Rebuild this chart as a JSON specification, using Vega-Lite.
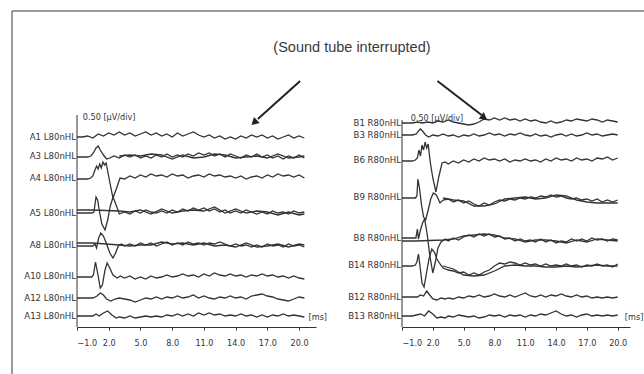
{
"$schema": "https://vega.github.io/schema/vega-lite/v6.json",
"width": 632, "height": 363,
"autosize": "none",
"padding": {"left": 12, "top": 11, "right": 0, "bottom": 0},
"background": "white",
"config": {
  "view": {"stroke": "#7a7a7a", "strokeWidth": 1.5, "strokeDash": [632, 995, 363, 0]},
  "axis": {"domainColor": "#333", "tickColor": "#333", "labelColor": "#333", "labelFont": "Liberation Sans Narrow, DejaVu Sans Condensed, sans-serif", "labelFontSize": 9, "tickSize": 3, "labelPadding": 8, "grid": false, "domainWidth": 1},
  "text": {"font": "Liberation Sans Narrow, DejaVu Sans Condensed, sans-serif", "fontSize": 9.5, "fill": "#333"}
},
"datasets": {
"A": [
{"s":"A1","t":-1,"v":13.7},{"s":"A1","t":-0.5,"v":13.7},{"s":"A1","t":0,"v":13.6},{"s":"A1","t":0.5,"v":13.8},{"s":"A1","t":1,"v":13.4},{"s":"A1","t":1.5,"v":13.6},{"s":"A1","t":2,"v":13.3},{"s":"A1","t":2.5,"v":13.5},{"s":"A1","t":3,"v":13.2},{"s":"A1","t":3.5,"v":13.5},{"s":"A1","t":4,"v":13.3},{"s":"A1","t":4.5,"v":13.6},{"s":"A1","t":5,"v":13.4},{"s":"A1","t":5.5,"v":13.2},{"s":"A1","t":6,"v":13.5},{"s":"A1","t":6.5,"v":13.3},{"s":"A1","t":7,"v":13.6},{"s":"A1","t":7.5,"v":13.4},{"s":"A1","t":8,"v":13.7},{"s":"A1","t":8.5,"v":13.3},{"s":"A1","t":9,"v":13.6},{"s":"A1","t":9.5,"v":13.4},{"s":"A1","t":10,"v":13.2},{"s":"A1","t":10.5,"v":13.5},{"s":"A1","t":11,"v":13.7},{"s":"A1","t":11.5,"v":13.5},{"s":"A1","t":12,"v":13.8},{"s":"A1","t":12.5,"v":13.6},{"s":"A1","t":13,"v":13.9},{"s":"A1","t":13.5,"v":13.7},{"s":"A1","t":14,"v":13.9},{"s":"A1","t":14.5,"v":13.6},{"s":"A1","t":15,"v":13.8},{"s":"A1","t":15.5,"v":13.5},{"s":"A1","t":16,"v":13.7},{"s":"A1","t":16.5,"v":13.5},{"s":"A1","t":17,"v":13.8},{"s":"A1","t":17.5,"v":13.6},{"s":"A1","t":18,"v":13.9},{"s":"A1","t":18.5,"v":13.7},{"s":"A1","t":19,"v":13.5},{"s":"A1","t":19.5,"v":13.8},{"s":"A1","t":20,"v":13.6},{"s":"A1","t":20.5,"v":13.8},
{"s":"A3","t":-1,"v":15.7},{"s":"A3","t":-0.5,"v":15.7},{"s":"A3","t":0,"v":15.7},{"s":"A3","t":0.3,"v":15.6},{"s":"A3","t":0.55,"v":15.3},{"s":"A3","t":0.8,"v":14.8},{"s":"A3","t":1,"v":14.6},{"s":"A3","t":1.2,"v":15.0},{"s":"A3","t":1.5,"v":15.5},{"s":"A3","t":1.8,"v":15.9},{"s":"A3","t":2.1,"v":15.8},{"s":"A3","t":2.5,"v":15.6},{"s":"A3","t":3,"v":15.8},{"s":"A3","t":3.5,"v":15.5},{"s":"A3","t":4,"v":15.7},{"s":"A3","t":4.5,"v":15.5},{"s":"A3","t":5,"v":15.8},{"s":"A3","t":5.5,"v":15.6},{"s":"A3","t":6,"v":15.8},{"s":"A3","t":6.5,"v":15.5},{"s":"A3","t":7,"v":15.7},{"s":"A3","t":7.5,"v":15.4},{"s":"A3","t":8,"v":15.7},{"s":"A3","t":8.5,"v":15.5},{"s":"A3","t":9,"v":15.7},{"s":"A3","t":9.5,"v":15.4},{"s":"A3","t":10,"v":15.6},{"s":"A3","t":10.5,"v":15.3},{"s":"A3","t":11,"v":15.5},{"s":"A3","t":11.5,"v":15.3},{"s":"A3","t":12,"v":15.6},{"s":"A3","t":12.5,"v":15.4},{"s":"A3","t":13,"v":15.7},{"s":"A3","t":13.5,"v":15.4},{"s":"A3","t":14,"v":15.6},{"s":"A3","t":14.5,"v":15.8},{"s":"A3","t":15,"v":15.5},{"s":"A3","t":15.5,"v":15.7},{"s":"A3","t":16,"v":15.4},{"s":"A3","t":16.5,"v":15.7},{"s":"A3","t":17,"v":15.5},{"s":"A3","t":17.5,"v":15.8},{"s":"A3","t":18,"v":15.6},{"s":"A3","t":18.5,"v":15.9},{"s":"A3","t":19,"v":15.6},{"s":"A3","t":19.5,"v":15.8},{"s":"A3","t":20,"v":15.5},{"s":"A3","t":20.5,"v":15.8},
{"s":"A3b","t":3,"v":15.6},{"s":"A3b","t":4,"v":15.5},{"s":"A3b","t":5,"v":15.6},{"s":"A3b","t":6,"v":15.4},{"s":"A3b","t":7,"v":15.5},{"s":"A3b","t":8,"v":15.9},{"s":"A3b","t":9,"v":15.5},{"s":"A3b","t":10,"v":15.8},{"s":"A3b","t":11,"v":15.7},{"s":"A3b","t":12,"v":15.4},{"s":"A3b","t":13,"v":15.5},{"s":"A3b","t":14,"v":15.8},{"s":"A3b","t":15,"v":15.7},{"s":"A3b","t":16,"v":15.6},{"s":"A3b","t":17,"v":15.8},{"s":"A3b","t":18,"v":15.4},{"s":"A3b","t":19,"v":15.8},{"s":"A3b","t":20,"v":15.7},{"s":"A3b","t":20.5,"v":15.6},
{"s":"A4","t":-1,"v":17.9},{"s":"A4","t":-0.5,"v":17.9},{"s":"A4","t":0,"v":17.9},{"s":"A4","t":0.3,"v":17.8},{"s":"A4","t":0.5,"v":17.6},{"s":"A4","t":0.7,"v":17.0},{"s":"A4","t":0.85,"v":16.6},{"s":"A4","t":1,"v":16.9},{"s":"A4","t":1.15,"v":16.4},{"s":"A4","t":1.3,"v":16.8},{"s":"A4","t":1.45,"v":16.2},{"s":"A4","t":1.6,"v":16.5},{"s":"A4","t":1.75,"v":16.3},{"s":"A4","t":2.1,"v":18.2},{"s":"A4","t":2.4,"v":19.8},{"s":"A4","t":2.75,"v":18.8},{"s":"A4","t":3.07,"v":17.8},{"s":"A4","t":3.5,"v":17.9},{"s":"A4","t":4,"v":17.6},{"s":"A4","t":4.5,"v":17.8},{"s":"A4","t":5,"v":17.5},{"s":"A4","t":5.5,"v":17.7},{"s":"A4","t":6,"v":17.4},{"s":"A4","t":6.5,"v":17.6},{"s":"A4","t":7,"v":17.5},{"s":"A4","t":7.5,"v":17.7},{"s":"A4","t":8,"v":17.4},{"s":"A4","t":8.5,"v":17.6},{"s":"A4","t":9,"v":17.5},{"s":"A4","t":9.5,"v":17.8},{"s":"A4","t":10,"v":17.6},{"s":"A4","t":10.5,"v":17.5},{"s":"A4","t":11,"v":17.7},{"s":"A4","t":11.5,"v":17.4},{"s":"A4","t":12,"v":17.6},{"s":"A4","t":12.5,"v":17.5},{"s":"A4","t":13,"v":17.7},{"s":"A4","t":13.5,"v":17.6},{"s":"A4","t":14,"v":17.8},{"s":"A4","t":14.5,"v":17.6},{"s":"A4","t":15,"v":17.9},{"s":"A4","t":15.5,"v":17.7},{"s":"A4","t":16,"v":17.6},{"s":"A4","t":16.5,"v":17.8},{"s":"A4","t":17,"v":17.5},{"s":"A4","t":17.5,"v":17.7},{"s":"A4","t":18,"v":17.4},{"s":"A4","t":18.5,"v":17.6},{"s":"A4","t":19,"v":17.5},{"s":"A4","t":19.5,"v":17.7},{"s":"A4","t":20,"v":17.5},{"s":"A4","t":20.5,"v":17.8},
{"s":"A5","t":-1,"v":21.3},{"s":"A5","t":-0.5,"v":21.3},{"s":"A5","t":0,"v":21.3},{"s":"A5","t":0.4,"v":21.3},{"s":"A5","t":0.6,"v":21.2},{"s":"A5","t":0.8,"v":19.7},{"s":"A5","t":0.95,"v":20.0},{"s":"A5","t":1.1,"v":21.0},{"s":"A5","t":1.35,"v":22.4},{"s":"A5","t":1.65,"v":23.0},{"s":"A5","t":1.9,"v":22.0},{"s":"A5","t":2.15,"v":20.6},{"s":"A5","t":2.41,"v":19.7},{"s":"A5","t":2.7,"v":20.5},{"s":"A5","t":3,"v":21.4},{"s":"A5","t":3.5,"v":21.2},{"s":"A5","t":4,"v":21.4},{"s":"A5","t":4.5,"v":21.1},{"s":"A5","t":5,"v":21.3},{"s":"A5","t":5.5,"v":21.0},{"s":"A5","t":6,"v":21.2},{"s":"A5","t":6.5,"v":21.3},{"s":"A5","t":7,"v":21.1},{"s":"A5","t":7.5,"v":21.3},{"s":"A5","t":8,"v":21.0},{"s":"A5","t":8.5,"v":21.2},{"s":"A5","t":9,"v":20.9},{"s":"A5","t":9.5,"v":21.1},{"s":"A5","t":10,"v":20.8},{"s":"A5","t":10.5,"v":21.0},{"s":"A5","t":11,"v":20.8},{"s":"A5","t":11.5,"v":21.1},{"s":"A5","t":12,"v":20.9},{"s":"A5","t":12.5,"v":21.2},{"s":"A5","t":13,"v":21.0},{"s":"A5","t":13.5,"v":21.3},{"s":"A5","t":14,"v":21.1},{"s":"A5","t":14.5,"v":21.3},{"s":"A5","t":15,"v":21.0},{"s":"A5","t":15.5,"v":21.2},{"s":"A5","t":16,"v":21.4},{"s":"A5","t":16.5,"v":21.2},{"s":"A5","t":17,"v":21.4},{"s":"A5","t":17.5,"v":21.1},{"s":"A5","t":18,"v":21.3},{"s":"A5","t":18.5,"v":21.2},{"s":"A5","t":19,"v":21.4},{"s":"A5","t":19.5,"v":21.1},{"s":"A5","t":20,"v":21.3},{"s":"A5","t":20.5,"v":21.2},
{"s":"A5b","t":-1,"v":21.0},{"s":"A5b","t":0.4,"v":21.0},{"s":"A5b","t":3,"v":21.1},{"s":"A5b","t":4,"v":21.2},{"s":"A5b","t":5,"v":21.0},{"s":"A5b","t":6,"v":21.4},{"s":"A5b","t":7,"v":20.9},{"s":"A5b","t":8,"v":21.3},{"s":"A5b","t":9,"v":21.1},{"s":"A5b","t":10,"v":21.0},{"s":"A5b","t":11,"v":21.1},{"s":"A5b","t":12,"v":20.7},{"s":"A5b","t":13,"v":21.3},{"s":"A5b","t":14,"v":20.9},{"s":"A5b","t":15,"v":21.3},{"s":"A5b","t":16,"v":21.1},{"s":"A5b","t":17,"v":21.2},{"s":"A5b","t":18,"v":21.5},{"s":"A5b","t":19,"v":21.2},{"s":"A5b","t":20,"v":21.5},{"s":"A5b","t":20.5,"v":21.4},
{"s":"A8","t":-1,"v":24.6},{"s":"A8","t":-0.5,"v":24.6},{"s":"A8","t":0,"v":24.6},{"s":"A8","t":0.5,"v":24.6},{"s":"A8","t":0.7,"v":24.4},{"s":"A8","t":0.85,"v":24.8},{"s":"A8","t":1.05,"v":23.8},{"s":"A8","t":1.25,"v":23.3},{"s":"A8","t":1.5,"v":23.6},{"s":"A8","t":1.8,"v":24.4},{"s":"A8","t":2.1,"v":25.3},{"s":"A8","t":2.4,"v":25.8},{"s":"A8","t":2.65,"v":25.3},{"s":"A8","t":2.9,"v":24.6},{"s":"A8","t":3.2,"v":24.4},{"s":"A8","t":3.5,"v":24.6},{"s":"A8","t":4,"v":24.4},{"s":"A8","t":4.5,"v":24.6},{"s":"A8","t":5,"v":24.3},{"s":"A8","t":5.5,"v":24.5},{"s":"A8","t":6,"v":24.3},{"s":"A8","t":6.5,"v":24.6},{"s":"A8","t":7,"v":24.4},{"s":"A8","t":7.5,"v":24.2},{"s":"A8","t":8,"v":24.5},{"s":"A8","t":8.5,"v":24.3},{"s":"A8","t":9,"v":24.5},{"s":"A8","t":9.5,"v":24.2},{"s":"A8","t":10,"v":24.4},{"s":"A8","t":10.5,"v":24.3},{"s":"A8","t":11,"v":24.5},{"s":"A8","t":11.5,"v":24.3},{"s":"A8","t":12,"v":24.4},{"s":"A8","t":12.5,"v":24.2},{"s":"A8","t":13,"v":24.4},{"s":"A8","t":13.5,"v":24.6},{"s":"A8","t":14,"v":24.4},{"s":"A8","t":14.5,"v":24.6},{"s":"A8","t":15,"v":24.5},{"s":"A8","t":15.5,"v":24.7},{"s":"A8","t":16,"v":24.5},{"s":"A8","t":16.5,"v":24.7},{"s":"A8","t":17,"v":24.4},{"s":"A8","t":17.5,"v":24.6},{"s":"A8","t":18,"v":24.5},{"s":"A8","t":18.5,"v":24.7},{"s":"A8","t":19,"v":24.4},{"s":"A8","t":19.5,"v":24.6},{"s":"A8","t":20,"v":24.5},{"s":"A8","t":20.5,"v":24.7},
{"s":"A8b","t":-1,"v":24.3},{"s":"A8b","t":0.5,"v":24.3},{"s":"A8b","t":3,"v":24.5},{"s":"A8b","t":4,"v":24.6},{"s":"A8b","t":5,"v":24.5},{"s":"A8b","t":6,"v":24.5},{"s":"A8b","t":7,"v":24.2},{"s":"A8b","t":8,"v":24.4},{"s":"A8b","t":9,"v":24.3},{"s":"A8b","t":10,"v":24.5},{"s":"A8b","t":11,"v":24.3},{"s":"A8b","t":12,"v":24.6},{"s":"A8b","t":13,"v":24.5},{"s":"A8b","t":14,"v":24.7},{"s":"A8b","t":15,"v":24.3},{"s":"A8b","t":16,"v":24.7},{"s":"A8b","t":17,"v":24.6},{"s":"A8b","t":18,"v":24.4},{"s":"A8b","t":19,"v":24.7},{"s":"A8b","t":20,"v":24.4},{"s":"A8b","t":20.5,"v":24.5},
{"s":"A10","t":-1,"v":27.7},{"s":"A10","t":-0.5,"v":27.7},{"s":"A10","t":0,"v":27.7},{"s":"A10","t":0.4,"v":27.7},{"s":"A10","t":0.55,"v":27.5},{"s":"A10","t":0.75,"v":26.2},{"s":"A10","t":0.95,"v":27.3},{"s":"A10","t":1.2,"v":28.8},{"s":"A10","t":1.4,"v":28.5},{"s":"A10","t":1.65,"v":27.0},{"s":"A10","t":1.85,"v":26.3},{"s":"A10","t":2.1,"v":26.8},{"s":"A10","t":2.4,"v":27.5},{"s":"A10","t":2.8,"v":27.8},{"s":"A10","t":3.1,"v":27.6},{"s":"A10","t":3.5,"v":27.8},{"s":"A10","t":4,"v":27.6},{"s":"A10","t":4.5,"v":27.9},{"s":"A10","t":5,"v":27.7},{"s":"A10","t":5.5,"v":27.9},{"s":"A10","t":6,"v":27.6},{"s":"A10","t":6.5,"v":27.8},{"s":"A10","t":7,"v":27.7},{"s":"A10","t":7.5,"v":27.5},{"s":"A10","t":8,"v":27.7},{"s":"A10","t":8.5,"v":27.6},{"s":"A10","t":9,"v":27.4},{"s":"A10","t":9.5,"v":27.6},{"s":"A10","t":10,"v":27.5},{"s":"A10","t":10.5,"v":27.7},{"s":"A10","t":11,"v":27.4},{"s":"A10","t":11.5,"v":27.6},{"s":"A10","t":12,"v":27.3},{"s":"A10","t":12.5,"v":27.5},{"s":"A10","t":13,"v":27.6},{"s":"A10","t":13.5,"v":27.4},{"s":"A10","t":14,"v":27.6},{"s":"A10","t":14.5,"v":27.5},{"s":"A10","t":15,"v":27.7},{"s":"A10","t":15.5,"v":27.5},{"s":"A10","t":16,"v":27.6},{"s":"A10","t":16.5,"v":27.4},{"s":"A10","t":17,"v":27.6},{"s":"A10","t":17.5,"v":27.5},{"s":"A10","t":18,"v":27.7},{"s":"A10","t":18.5,"v":27.6},{"s":"A10","t":19,"v":27.8},{"s":"A10","t":19.5,"v":27.6},{"s":"A10","t":20,"v":27.8},{"s":"A10","t":20.5,"v":27.9},
{"s":"A12","t":-1,"v":29.8},{"s":"A12","t":-0.5,"v":29.8},{"s":"A12","t":0,"v":29.8},{"s":"A12","t":0.5,"v":29.8},{"s":"A12","t":0.9,"v":29.6},{"s":"A12","t":1.2,"v":29.3},{"s":"A12","t":1.5,"v":29.5},{"s":"A12","t":1.8,"v":29.9},{"s":"A12","t":2.2,"v":30.1},{"s":"A12","t":2.6,"v":29.9},{"s":"A12","t":3,"v":29.8},{"s":"A12","t":3.5,"v":29.9},{"s":"A12","t":4,"v":30.0},{"s":"A12","t":4.5,"v":30.2},{"s":"A12","t":5,"v":30.0},{"s":"A12","t":5.5,"v":29.8},{"s":"A12","t":6,"v":29.9},{"s":"A12","t":6.5,"v":29.7},{"s":"A12","t":7,"v":29.9},{"s":"A12","t":7.5,"v":29.7},{"s":"A12","t":8,"v":29.8},{"s":"A12","t":8.5,"v":29.6},{"s":"A12","t":9,"v":29.8},{"s":"A12","t":9.5,"v":29.7},{"s":"A12","t":10,"v":29.5},{"s":"A12","t":10.5,"v":29.8},{"s":"A12","t":11,"v":29.6},{"s":"A12","t":11.5,"v":29.8},{"s":"A12","t":12,"v":29.9},{"s":"A12","t":12.5,"v":29.7},{"s":"A12","t":13,"v":29.8},{"s":"A12","t":13.5,"v":29.6},{"s":"A12","t":14,"v":29.8},{"s":"A12","t":14.5,"v":29.7},{"s":"A12","t":15,"v":29.9},{"s":"A12","t":15.5,"v":29.6},{"s":"A12","t":16,"v":29.5},{"s":"A12","t":16.5,"v":29.4},{"s":"A12","t":17,"v":29.6},{"s":"A12","t":17.5,"v":29.7},{"s":"A12","t":18,"v":29.9},{"s":"A12","t":18.5,"v":30.0},{"s":"A12","t":19,"v":30.1},{"s":"A12","t":19.5,"v":29.9},{"s":"A12","t":20,"v":29.7},{"s":"A12","t":20.5,"v":29.8},
{"s":"A13","t":-1,"v":31.6},{"s":"A13","t":-0.5,"v":31.6},{"s":"A13","t":0,"v":31.6},{"s":"A13","t":0.5,"v":31.6},{"s":"A13","t":0.8,"v":31.4},{"s":"A13","t":1.1,"v":31.6},{"s":"A13","t":1.5,"v":31.3},{"s":"A13","t":1.9,"v":31.1},{"s":"A13","t":2.3,"v":31.5},{"s":"A13","t":2.7,"v":31.8},{"s":"A13","t":3,"v":31.7},{"s":"A13","t":3.5,"v":31.8},{"s":"A13","t":4,"v":31.6},{"s":"A13","t":4.5,"v":31.8},{"s":"A13","t":5,"v":31.7},{"s":"A13","t":5.5,"v":31.6},{"s":"A13","t":6,"v":31.7},{"s":"A13","t":6.5,"v":31.6},{"s":"A13","t":7,"v":31.7},{"s":"A13","t":7.5,"v":31.5},{"s":"A13","t":8,"v":31.6},{"s":"A13","t":8.5,"v":31.4},{"s":"A13","t":9,"v":31.6},{"s":"A13","t":9.5,"v":31.4},{"s":"A13","t":10,"v":31.6},{"s":"A13","t":10.5,"v":31.3},{"s":"A13","t":11,"v":31.5},{"s":"A13","t":11.5,"v":31.3},{"s":"A13","t":12,"v":31.5},{"s":"A13","t":12.5,"v":31.4},{"s":"A13","t":13,"v":31.6},{"s":"A13","t":13.5,"v":31.5},{"s":"A13","t":14,"v":31.6},{"s":"A13","t":14.5,"v":31.4},{"s":"A13","t":15,"v":31.6},{"s":"A13","t":15.5,"v":31.5},{"s":"A13","t":16,"v":31.7},{"s":"A13","t":16.5,"v":31.5},{"s":"A13","t":17,"v":31.7},{"s":"A13","t":17.5,"v":31.5},{"s":"A13","t":18,"v":31.6},{"s":"A13","t":18.5,"v":31.4},{"s":"A13","t":19,"v":31.6},{"s":"A13","t":19.5,"v":31.5},{"s":"A13","t":20,"v":31.6},{"s":"A13","t":20.5,"v":31.7}
],
"B": [
{"s":"B1","t":-1,"v":12.3},{"s":"B1","t":-0.5,"v":12.3},{"s":"B1","t":0,"v":12.3},{"s":"B1","t":0.5,"v":12.2},{"s":"B1","t":1,"v":12.3},{"s":"B1","t":1.5,"v":12.2},{"s":"B1","t":2,"v":12.3},{"s":"B1","t":2.5,"v":12.1},{"s":"B1","t":3,"v":12.2},{"s":"B1","t":3.5,"v":12.0},{"s":"B1","t":4,"v":12.2},{"s":"B1","t":4.5,"v":12.3},{"s":"B1","t":5,"v":12.4},{"s":"B1","t":5.5,"v":12.5},{"s":"B1","t":6,"v":12.4},{"s":"B1","t":6.5,"v":12.2},{"s":"B1","t":7,"v":11.9},{"s":"B1","t":7.5,"v":12.0},{"s":"B1","t":8,"v":11.8},{"s":"B1","t":8.5,"v":12.0},{"s":"B1","t":9,"v":11.8},{"s":"B1","t":9.5,"v":12.0},{"s":"B1","t":10,"v":11.9},{"s":"B1","t":10.5,"v":12.1},{"s":"B1","t":11,"v":11.9},{"s":"B1","t":11.5,"v":12.1},{"s":"B1","t":12,"v":12.0},{"s":"B1","t":12.5,"v":12.2},{"s":"B1","t":13,"v":12.3},{"s":"B1","t":13.5,"v":12.1},{"s":"B1","t":14,"v":12.3},{"s":"B1","t":14.5,"v":12.2},{"s":"B1","t":15,"v":12.0},{"s":"B1","t":15.5,"v":12.1},{"s":"B1","t":16,"v":11.9},{"s":"B1","t":16.5,"v":12.0},{"s":"B1","t":17,"v":12.1},{"s":"B1","t":17.5,"v":11.9},{"s":"B1","t":18,"v":12.0},{"s":"B1","t":18.5,"v":12.2},{"s":"B1","t":19,"v":12.0},{"s":"B1","t":19.5,"v":12.1},{"s":"B1","t":20,"v":12.2},
{"s":"B3","t":-1,"v":13.5},{"s":"B3","t":-0.5,"v":13.5},{"s":"B3","t":0,"v":13.5},{"s":"B3","t":0.4,"v":13.4},{"s":"B3","t":0.6,"v":13.1},{"s":"B3","t":0.8,"v":12.9},{"s":"B3","t":1,"v":13.1},{"s":"B3","t":1.3,"v":13.5},{"s":"B3","t":1.6,"v":13.7},{"s":"B3","t":2,"v":13.5},{"s":"B3","t":2.5,"v":13.6},{"s":"B3","t":3,"v":13.4},{"s":"B3","t":3.5,"v":13.6},{"s":"B3","t":4,"v":13.5},{"s":"B3","t":4.5,"v":13.7},{"s":"B3","t":5,"v":13.5},{"s":"B3","t":5.5,"v":13.6},{"s":"B3","t":6,"v":13.4},{"s":"B3","t":6.5,"v":13.6},{"s":"B3","t":7,"v":13.5},{"s":"B3","t":7.5,"v":13.3},{"s":"B3","t":8,"v":13.5},{"s":"B3","t":8.5,"v":13.4},{"s":"B3","t":9,"v":13.6},{"s":"B3","t":9.5,"v":13.4},{"s":"B3","t":10,"v":13.5},{"s":"B3","t":10.5,"v":13.3},{"s":"B3","t":11,"v":13.5},{"s":"B3","t":11.5,"v":13.6},{"s":"B3","t":12,"v":13.4},{"s":"B3","t":12.5,"v":13.6},{"s":"B3","t":13,"v":13.5},{"s":"B3","t":13.5,"v":13.7},{"s":"B3","t":14,"v":13.5},{"s":"B3","t":14.5,"v":13.4},{"s":"B3","t":15,"v":13.6},{"s":"B3","t":15.5,"v":13.4},{"s":"B3","t":16,"v":13.6},{"s":"B3","t":16.5,"v":13.5},{"s":"B3","t":17,"v":13.3},{"s":"B3","t":17.5,"v":13.5},{"s":"B3","t":18,"v":13.4},{"s":"B3","t":18.5,"v":13.6},{"s":"B3","t":19,"v":13.5},{"s":"B3","t":19.5,"v":13.4},{"s":"B3","t":20,"v":13.5},
{"s":"B6","t":-1,"v":16.1},{"s":"B6","t":-0.5,"v":16.1},{"s":"B6","t":0,"v":16.1},{"s":"B6","t":0.3,"v":16.0},{"s":"B6","t":0.5,"v":15.8},{"s":"B6","t":0.65,"v":15.0},{"s":"B6","t":0.8,"v":15.6},{"s":"B6","t":0.95,"v":14.5},{"s":"B6","t":1.1,"v":15.0},{"s":"B6","t":1.25,"v":14.2},{"s":"B6","t":1.4,"v":14.8},{"s":"B6","t":1.55,"v":14.4},{"s":"B6","t":1.75,"v":16.2},{"s":"B6","t":2,"v":17.8},{"s":"B6","t":2.3,"v":19.2},{"s":"B6","t":2.6,"v":17.6},{"s":"B6","t":2.9,"v":16.3},{"s":"B6","t":3.2,"v":16.2},{"s":"B6","t":3.5,"v":16.4},{"s":"B6","t":4,"v":16.1},{"s":"B6","t":4.5,"v":16.3},{"s":"B6","t":5,"v":16.0},{"s":"B6","t":5.5,"v":16.2},{"s":"B6","t":6,"v":15.9},{"s":"B6","t":6.5,"v":16.1},{"s":"B6","t":7,"v":15.8},{"s":"B6","t":7.5,"v":16.0},{"s":"B6","t":8,"v":15.9},{"s":"B6","t":8.5,"v":16.1},{"s":"B6","t":9,"v":15.9},{"s":"B6","t":9.5,"v":16.2},{"s":"B6","t":10,"v":16.0},{"s":"B6","t":10.5,"v":16.1},{"s":"B6","t":11,"v":15.9},{"s":"B6","t":11.5,"v":16.1},{"s":"B6","t":12,"v":16.0},{"s":"B6","t":12.5,"v":16.2},{"s":"B6","t":13,"v":15.9},{"s":"B6","t":13.5,"v":16.1},{"s":"B6","t":14,"v":15.8},{"s":"B6","t":14.5,"v":16.0},{"s":"B6","t":15,"v":15.9},{"s":"B6","t":15.5,"v":16.1},{"s":"B6","t":16,"v":15.8},{"s":"B6","t":16.5,"v":16.0},{"s":"B6","t":17,"v":15.9},{"s":"B6","t":17.5,"v":16.1},{"s":"B6","t":18,"v":15.8},{"s":"B6","t":18.5,"v":15.9},{"s":"B6","t":19,"v":15.7},{"s":"B6","t":19.5,"v":16.0},{"s":"B6","t":20,"v":15.8},
{"s":"B9","t":-1,"v":19.8},{"s":"B9","t":-0.5,"v":19.8},{"s":"B9","t":0,"v":19.8},{"s":"B9","t":0.3,"v":19.8},{"s":"B9","t":0.45,"v":19.6},{"s":"B9","t":0.55,"v":17.9},{"s":"B9","t":0.7,"v":18.8},{"s":"B9","t":0.9,"v":20.5},{"s":"B9","t":1.1,"v":21.7},{"s":"B9","t":1.3,"v":22.0},{"s":"B9","t":1.55,"v":21.0},{"s":"B9","t":1.8,"v":19.9},{"s":"B9","t":2.05,"v":19.3},{"s":"B9","t":2.35,"v":19.5},{"s":"B9","t":2.7,"v":20.3},{"s":"B9","t":3,"v":20.0},{"s":"B9","t":3.5,"v":19.9},{"s":"B9","t":4,"v":20.2},{"s":"B9","t":4.5,"v":20.0},{"s":"B9","t":5,"v":20.3},{"s":"B9","t":5.5,"v":20.1},{"s":"B9","t":6,"v":20.4},{"s":"B9","t":6.5,"v":20.6},{"s":"B9","t":7,"v":20.3},{"s":"B9","t":7.5,"v":20.5},{"s":"B9","t":8,"v":20.2},{"s":"B9","t":8.5,"v":20.0},{"s":"B9","t":9,"v":20.1},{"s":"B9","t":9.5,"v":19.9},{"s":"B9","t":10,"v":20.0},{"s":"B9","t":10.5,"v":19.8},{"s":"B9","t":11,"v":19.9},{"s":"B9","t":11.5,"v":19.7},{"s":"B9","t":12,"v":19.8},{"s":"B9","t":12.5,"v":19.6},{"s":"B9","t":13,"v":19.7},{"s":"B9","t":13.5,"v":19.5},{"s":"B9","t":14,"v":19.7},{"s":"B9","t":14.5,"v":19.6},{"s":"B9","t":15,"v":19.8},{"s":"B9","t":15.5,"v":19.9},{"s":"B9","t":16,"v":19.8},{"s":"B9","t":16.5,"v":20.0},{"s":"B9","t":17,"v":19.9},{"s":"B9","t":17.5,"v":20.1},{"s":"B9","t":18,"v":19.9},{"s":"B9","t":18.5,"v":20.2},{"s":"B9","t":19,"v":20.0},{"s":"B9","t":19.5,"v":20.2},{"s":"B9","t":20,"v":20.0},
{"s":"B9b","t":3,"v":19.8},{"s":"B9b","t":4,"v":20.0},{"s":"B9b","t":5,"v":20.1},{"s":"B9b","t":6,"v":20.6},{"s":"B9b","t":7,"v":20.6},{"s":"B9b","t":8,"v":20.4},{"s":"B9b","t":9,"v":19.9},{"s":"B9b","t":10,"v":19.8},{"s":"B9b","t":11,"v":19.7},{"s":"B9b","t":12,"v":19.9},{"s":"B9b","t":13,"v":19.8},{"s":"B9b","t":14,"v":19.5},{"s":"B9b","t":15,"v":19.6},{"s":"B9b","t":16,"v":20.0},{"s":"B9b","t":17,"v":20.2},{"s":"B9b","t":18,"v":20.3},{"s":"B9b","t":19,"v":20.3},{"s":"B9b","t":20,"v":20.3},
{"s":"B8","t":-1,"v":23.8},{"s":"B8","t":-0.5,"v":23.8},{"s":"B8","t":0,"v":23.8},{"s":"B8","t":0.35,"v":23.8},{"s":"B8","t":0.5,"v":22.9},{"s":"B8","t":0.6,"v":23.9},{"s":"B8","t":0.8,"v":23.0},{"s":"B8","t":1,"v":22.3},{"s":"B8","t":1.2,"v":21.9},{"s":"B8","t":1.45,"v":23.4},{"s":"B8","t":1.7,"v":25.5},{"s":"B8","t":2,"v":27.3},{"s":"B8","t":2.25,"v":26.2},{"s":"B8","t":2.5,"v":24.8},{"s":"B8","t":2.8,"v":24.2},{"s":"B8","t":3.2,"v":23.9},{"s":"B8","t":3.5,"v":24.1},{"s":"B8","t":4,"v":23.8},{"s":"B8","t":4.5,"v":24.0},{"s":"B8","t":5,"v":23.7},{"s":"B8","t":5.5,"v":23.5},{"s":"B8","t":6,"v":23.7},{"s":"B8","t":6.5,"v":23.4},{"s":"B8","t":7,"v":23.6},{"s":"B8","t":7.5,"v":23.4},{"s":"B8","t":8,"v":23.7},{"s":"B8","t":8.5,"v":23.6},{"s":"B8","t":9,"v":23.9},{"s":"B8","t":9.5,"v":23.8},{"s":"B8","t":10,"v":24.1},{"s":"B8","t":10.5,"v":23.9},{"s":"B8","t":11,"v":24.1},{"s":"B8","t":11.5,"v":24.0},{"s":"B8","t":12,"v":24.2},{"s":"B8","t":12.5,"v":23.9},{"s":"B8","t":13,"v":24.2},{"s":"B8","t":13.5,"v":24.0},{"s":"B8","t":14,"v":24.3},{"s":"B8","t":14.5,"v":24.1},{"s":"B8","t":15,"v":24.2},{"s":"B8","t":15.5,"v":23.9},{"s":"B8","t":16,"v":24.1},{"s":"B8","t":16.5,"v":23.9},{"s":"B8","t":17,"v":24.1},{"s":"B8","t":17.5,"v":23.8},{"s":"B8","t":18,"v":24.0},{"s":"B8","t":18.5,"v":23.9},{"s":"B8","t":19,"v":24.1},{"s":"B8","t":19.5,"v":23.9},{"s":"B8","t":20,"v":24.0},
{"s":"B8b","t":-1,"v":24.1},{"s":"B8b","t":0.35,"v":24.1},{"s":"B8b","t":3,"v":24.0},{"s":"B8b","t":4,"v":23.9},{"s":"B8b","t":5,"v":23.6},{"s":"B8b","t":6,"v":23.5},{"s":"B8b","t":7,"v":23.4},{"s":"B8b","t":8,"v":23.5},{"s":"B8b","t":9,"v":23.8},{"s":"B8b","t":10,"v":23.9},{"s":"B8b","t":11,"v":24.2},{"s":"B8b","t":12,"v":24.0},{"s":"B8b","t":13,"v":24.0},{"s":"B8b","t":14,"v":24.1},{"s":"B8b","t":15,"v":24.3},{"s":"B8b","t":16,"v":24.0},{"s":"B8b","t":17,"v":24.2},{"s":"B8b","t":18,"v":23.9},{"s":"B8b","t":19,"v":24.0},{"s":"B8b","t":20,"v":24.1},
{"s":"B14","t":-1,"v":26.6},{"s":"B14","t":-0.5,"v":26.6},{"s":"B14","t":0,"v":26.6},{"s":"B14","t":0.3,"v":26.5},{"s":"B14","t":0.45,"v":26.2},{"s":"B14","t":0.6,"v":25.4},{"s":"B14","t":0.75,"v":26.6},{"s":"B14","t":0.95,"v":28.3},{"s":"B14","t":1.15,"v":28.7},{"s":"B14","t":1.4,"v":27.2},{"s":"B14","t":1.65,"v":25.8},{"s":"B14","t":1.9,"v":24.9},{"s":"B14","t":2.15,"v":25.2},{"s":"B14","t":2.4,"v":25.9},{"s":"B14","t":2.7,"v":26.4},{"s":"B14","t":3,"v":26.8},{"s":"B14","t":3.5,"v":27.0},{"s":"B14","t":4,"v":27.1},{"s":"B14","t":4.5,"v":27.3},{"s":"B14","t":5,"v":27.2},{"s":"B14","t":5.5,"v":27.5},{"s":"B14","t":6,"v":27.3},{"s":"B14","t":6.5,"v":27.5},{"s":"B14","t":7,"v":27.2},{"s":"B14","t":7.5,"v":27.0},{"s":"B14","t":8,"v":26.6},{"s":"B14","t":8.5,"v":26.3},{"s":"B14","t":9,"v":26.4},{"s":"B14","t":9.5,"v":26.2},{"s":"B14","t":10,"v":26.3},{"s":"B14","t":10.5,"v":26.5},{"s":"B14","t":11,"v":26.3},{"s":"B14","t":11.5,"v":26.5},{"s":"B14","t":12,"v":26.4},{"s":"B14","t":12.5,"v":26.6},{"s":"B14","t":13,"v":26.4},{"s":"B14","t":13.5,"v":26.6},{"s":"B14","t":14,"v":26.5},{"s":"B14","t":14.5,"v":26.6},{"s":"B14","t":15,"v":26.4},{"s":"B14","t":15.5,"v":26.6},{"s":"B14","t":16,"v":26.5},{"s":"B14","t":16.5,"v":26.7},{"s":"B14","t":17,"v":26.5},{"s":"B14","t":17.5,"v":26.6},{"s":"B14","t":18,"v":26.4},{"s":"B14","t":18.5,"v":26.6},{"s":"B14","t":19,"v":26.5},{"s":"B14","t":19.5,"v":26.7},{"s":"B14","t":20,"v":26.4},
{"s":"B14b","t":3,"v":26.6},{"s":"B14b","t":4,"v":26.9},{"s":"B14b","t":5,"v":27.5},{"s":"B14b","t":6,"v":27.6},{"s":"B14b","t":7,"v":27.5},{"s":"B14b","t":8,"v":27.1},{"s":"B14b","t":9,"v":26.6},{"s":"B14b","t":10,"v":26.5},{"s":"B14b","t":11,"v":26.6},{"s":"B14b","t":12,"v":26.6},{"s":"B14b","t":13,"v":26.7},{"s":"B14b","t":14,"v":26.7},{"s":"B14b","t":15,"v":26.6},{"s":"B14b","t":16,"v":26.7},{"s":"B14b","t":17,"v":26.6},{"s":"B14b","t":18,"v":26.5},{"s":"B14b","t":19,"v":26.6},{"s":"B14b","t":20,"v":26.6},
{"s":"B12","t":-1,"v":29.7},{"s":"B12","t":-0.5,"v":29.7},{"s":"B12","t":0,"v":29.7},{"s":"B12","t":0.5,"v":29.7},{"s":"B12","t":0.8,"v":29.5},{"s":"B12","t":1.1,"v":29.6},{"s":"B12","t":1.4,"v":29.1},{"s":"B12","t":1.7,"v":29.5},{"s":"B12","t":2,"v":29.9},{"s":"B12","t":2.4,"v":30.0},{"s":"B12","t":2.8,"v":29.8},{"s":"B12","t":3.2,"v":29.9},{"s":"B12","t":3.5,"v":29.8},{"s":"B12","t":4,"v":29.9},{"s":"B12","t":4.5,"v":29.7},{"s":"B12","t":5,"v":29.8},{"s":"B12","t":5.5,"v":29.6},{"s":"B12","t":6,"v":29.7},{"s":"B12","t":6.5,"v":29.5},{"s":"B12","t":7,"v":29.7},{"s":"B12","t":7.5,"v":29.6},{"s":"B12","t":8,"v":29.4},{"s":"B12","t":8.5,"v":29.6},{"s":"B12","t":9,"v":29.7},{"s":"B12","t":9.5,"v":29.5},{"s":"B12","t":10,"v":29.7},{"s":"B12","t":10.5,"v":29.5},{"s":"B12","t":11,"v":29.3},{"s":"B12","t":11.5,"v":29.6},{"s":"B12","t":12,"v":29.7},{"s":"B12","t":12.5,"v":29.5},{"s":"B12","t":13,"v":29.7},{"s":"B12","t":13.5,"v":29.5},{"s":"B12","t":14,"v":29.6},{"s":"B12","t":14.5,"v":29.4},{"s":"B12","t":15,"v":29.6},{"s":"B12","t":15.5,"v":29.7},{"s":"B12","t":16,"v":29.5},{"s":"B12","t":16.5,"v":29.7},{"s":"B12","t":17,"v":29.6},{"s":"B12","t":17.5,"v":29.8},{"s":"B12","t":18,"v":29.7},{"s":"B12","t":18.5,"v":29.8},{"s":"B12","t":19,"v":29.7},{"s":"B12","t":19.5,"v":29.8},{"s":"B12","t":20,"v":29.7},
{"s":"B13","t":-1,"v":31.6},{"s":"B13","t":-0.5,"v":31.6},{"s":"B13","t":0,"v":31.6},{"s":"B13","t":0.4,"v":31.5},{"s":"B13","t":0.8,"v":31.4},{"s":"B13","t":1.2,"v":31.6},{"s":"B13","t":1.6,"v":31.1},{"s":"B13","t":2,"v":31.4},{"s":"B13","t":2.4,"v":31.8},{"s":"B13","t":2.8,"v":31.7},{"s":"B13","t":3.2,"v":31.8},{"s":"B13","t":3.5,"v":31.6},{"s":"B13","t":4,"v":31.7},{"s":"B13","t":4.5,"v":31.5},{"s":"B13","t":5,"v":31.6},{"s":"B13","t":5.5,"v":31.7},{"s":"B13","t":6,"v":31.6},{"s":"B13","t":6.5,"v":31.8},{"s":"B13","t":7,"v":31.7},{"s":"B13","t":7.5,"v":31.5},{"s":"B13","t":8,"v":31.6},{"s":"B13","t":8.5,"v":31.5},{"s":"B13","t":9,"v":31.7},{"s":"B13","t":9.5,"v":31.5},{"s":"B13","t":10,"v":31.6},{"s":"B13","t":10.5,"v":31.5},{"s":"B13","t":11,"v":31.7},{"s":"B13","t":11.5,"v":31.5},{"s":"B13","t":12,"v":31.6},{"s":"B13","t":12.5,"v":31.4},{"s":"B13","t":13,"v":31.5},{"s":"B13","t":13.5,"v":31.3},{"s":"B13","t":14,"v":31.1},{"s":"B13","t":14.5,"v":31.4},{"s":"B13","t":15,"v":31.6},{"s":"B13","t":15.5,"v":31.5},{"s":"B13","t":16,"v":31.7},{"s":"B13","t":16.5,"v":31.5},{"s":"B13","t":17,"v":31.4},{"s":"B13","t":17.5,"v":31.6},{"s":"B13","t":18,"v":31.5},{"s":"B13","t":18.5,"v":31.6},{"s":"B13","t":19,"v":31.5},{"s":"B13","t":19.5,"v":31.6},{"s":"B13","t":20,"v":31.5}
],
"labA": [
{"t":-1,"v":13.7,"label":"A1 L80nHL"},{"t":-1,"v":15.6,"label":"A3 L80nHL"},{"t":-1,"v":17.8,"label":"A4 L80nHL"},{"t":-1,"v":21.3,"label":"A5 L80nHL"},{"t":-1,"v":24.5,"label":"A8 L80nHL"},{"t":-1,"v":27.6,"label":"A10 L80nHL"},{"t":-1,"v":29.8,"label":"A12 L80nHL"},{"t":-1,"v":31.6,"label":"A13 L80nHL"}
],
"labB": [
{"t":-1,"v":12.3,"label":"B1 R80nHL"},{"t":-1,"v":13.5,"label":"B3 R80nHL"},{"t":-1,"v":16.0,"label":"B6 R80nHL"},{"t":-1,"v":19.7,"label":"B9 R80nHL"},{"t":-1,"v":23.8,"label":"B8 R80nHL"},{"t":-1,"v":26.5,"label":"B14 R80nHL"},{"t":-1,"v":29.7,"label":"B12 R80nHL"},{"t":-1,"v":31.6,"label":"B13 R80nHL"}
],
"noteA": [{"t":-0.45,"v":11.7,"label":"0.50 [µV/div]"},{"t":20.9,"v":31.7,"label":"[ms]"}],
"noteB": [{"t":-0.15,"v":11.8,"label":"0.50 [µV/div]"},{"t":20.7,"v":31.7,"label":"[ms]"}],
"titleA": [{"t":25.0,"v":4.8,"label":"(Sound tube interrupted)"}],
"axA": [{"t":-1,"v":11.5,"t2":-1,"v2":32.7}],
"axB": [{"t":-1,"v":12.0,"t2":-1,"v2":32.7}],
"arrA": [{"t":20.1,"v":8.1,"t2":16.1,"v2":11.9}],
"headA": [{"t":15.75,"v":12.25}],
"arrB": [{"t":2.45,"v":8.1,"t2":6.75,"v2":11.5}],
"headB": [{"t":7.0,"v":11.75}]
},
"resolve": {"scale": {"x": "independent"}, "axis": {"x": "independent"}},
"layer": [
{
 "encoding": {
  "x": {"field": "t", "type": "quantitative", "scale": {"domain": [-1, 21.6], "range": [65, 304], "nice": false, "zero": false},
        "axis": {"orient": "bottom", "values": [-1, 2, 5, 8, 11, 14, 17, 20], "format": ".1f", "title": null, "offset": -47}},
  "y": {"field": "v", "type": "quantitative", "scale": {"domain": [1.1, 37.4], "reverse": true, "nice": false, "zero": false}, "axis": null}
 },
 "layer": [
  {"data": {"name": "axA"}, "mark": {"type": "rule", "stroke": "#333", "strokeWidth": 1}, "encoding": {"x2": {"field": "t2"}, "y2": {"field": "v2"}}},
  {"data": {"name": "A"}, "mark": {"type": "line", "stroke": "#333", "strokeWidth": 1.3}, "encoding": {"detail": {"field": "s"}}},
  {"data": {"name": "labA"}, "mark": {"type": "text", "align": "right", "baseline": "middle", "dx": -1}, "encoding": {"text": {"field": "label"}}},
  {"data": {"name": "noteA"}, "mark": {"type": "text", "align": "left", "baseline": "middle", "fontSize": 9}, "encoding": {"text": {"field": "label"}}},
  {"data": {"name": "titleA"}, "mark": {"type": "text", "align": "center", "baseline": "middle", "font": "Liberation Sans, Arial, sans-serif", "fontSize": 14.5, "fill": "#3a3a3a"}, "encoding": {"text": {"field": "label"}}},
  {"data": {"name": "arrA"}, "mark": {"type": "rule", "stroke": "#222", "strokeWidth": 2}, "encoding": {"x2": {"field": "t2"}, "y2": {"field": "v2"}}},
  {"data": {"name": "headA"}, "mark": {"type": "point", "shape": "triangle-up", "filled": true, "fill": "#222", "stroke": null, "size": 70, "angle": 227, "opacity": 1}, "encoding": {}}
 ]
},
{
 "encoding": {
  "x": {"field": "t", "type": "quantitative", "scale": {"domain": [-1, 21.2], "range": [390, 618], "nice": false, "zero": false},
        "axis": {"orient": "bottom", "values": [-1, 2, 5, 8, 11, 14, 17, 20], "format": ".1f", "title": null, "offset": -47}},
  "y": {"field": "v", "type": "quantitative", "scale": {"domain": [1.1, 37.4], "reverse": true, "nice": false, "zero": false}, "axis": null}
 },
 "layer": [
  {"data": {"name": "axB"}, "mark": {"type": "rule", "stroke": "#333", "strokeWidth": 1}, "encoding": {"x2": {"field": "t2"}, "y2": {"field": "v2"}}},
  {"data": {"name": "B"}, "mark": {"type": "line", "stroke": "#333", "strokeWidth": 1.3}, "encoding": {"detail": {"field": "s"}}},
  {"data": {"name": "labB"}, "mark": {"type": "text", "align": "right", "baseline": "middle", "dx": -1}, "encoding": {"text": {"field": "label"}}},
  {"data": {"name": "noteB"}, "mark": {"type": "text", "align": "left", "baseline": "middle", "fontSize": 9}, "encoding": {"text": {"field": "label"}}},
  {"data": {"name": "arrB"}, "mark": {"type": "rule", "stroke": "#222", "strokeWidth": 2}, "encoding": {"x2": {"field": "t2"}, "y2": {"field": "v2"}}},
  {"data": {"name": "headB"}, "mark": {"type": "point", "shape": "triangle-up", "filled": true, "fill": "#222", "stroke": null, "size": 70, "angle": 126, "opacity": 1}, "encoding": {}}
 ]
}
]
}
